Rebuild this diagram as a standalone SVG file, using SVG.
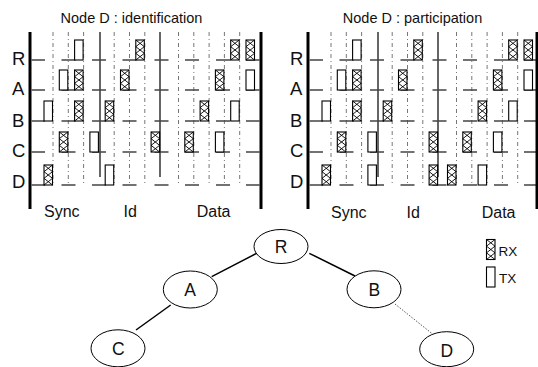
<svg xmlns="http://www.w3.org/2000/svg" width="538" height="367" viewBox="0 0 538 367">
<style>
text{font-family:"Liberation Sans",Arial,sans-serif;fill:#111}
.title{font-size:14.5px;text-anchor:middle}
.row{font-size:18.5px}
.sec{font-size:16px}
.leg{font-size:13.5px}
.node text{font-size:17.5px;text-anchor:middle}
.bar{stroke:#000;stroke-width:3}
.sep{stroke:#000;stroke-width:1.2}
.grid{stroke:#777;stroke-width:1;stroke-dasharray:4 3 1 3;fill:none}
.tl{stroke:#444;stroke-width:1.3;fill:none}
.box{fill:#fff;stroke:#000;stroke-width:1.1}
.hatch{fill:none;stroke:#000;stroke-width:0.9}
.node ellipse{fill:#fff;stroke:#000;stroke-width:1}
.edge{stroke:#000;stroke-width:1.5}
.weak{stroke:#555;stroke-width:1;stroke-dasharray:1.5 1.5}
</style>
<defs>
  <!-- slot markers: TX = empty box, RX = cross-hatched box -->
  <g id="tx"><rect class="box" width="8.5" height="20"/></g>
  <g id="rx"><rect class="box" width="8.5" height="20"/><path class="hatch" d="M0 0L8.5 6.67L0 13.33L8.5 20M8.5 0L0 6.67L8.5 13.33L0 20"/></g>
  <!-- idle timeline of one node row -->
  <path id="tline" class="tl" d="M31.5 0H45M61.5 0H75.5M92 0H106M122.5 0H136.5M154.5 0H168.5M185 0H199M216 0H230M246 0H259.5"/>
  <!-- chart frame: slot grid, section dividers, left axis, row timelines, row names -->
  <g id="frame">
    <path class="grid" d="M53 32V186M68.3 32V186M83.6 32V186M114.2 32V186M129.5 32V186M144.8 32V186M178.5 32V186M193.8 32V186M209.1 32V186M224.4 32V186M239.7 32V186"/>
    <path class="sep" d="M100 32V177M160 32V177"/>
    <path class="bar" d="M30 32V209"/>
    <use href="#tline" y="60"/>
    <use href="#tline" y="90"/>
    <use href="#tline" y="121"/>
    <use href="#tline" y="152"/>
    <use href="#tline" y="185"/>
    <text class="row" x="12" y="65">R</text>
    <text class="row" x="12" y="95">A</text>
    <text class="row" x="12" y="126.5">B</text>
    <text class="row" x="12" y="156.5">C</text>
    <text class="row" x="12" y="188">D</text>
  </g>
  <!-- slots of nodes R, A, B, C (same in both phases) -->
  <g id="slotsRABC">
    <use href="#tx" x="74.6" y="40"/>
    <use href="#rx" x="135.8" y="40"/>
    <use href="#rx" x="230.7" y="40"/>
    <use href="#rx" x="246" y="40"/>
    <use href="#tx" x="59.3" y="70"/>
    <use href="#rx" x="74.6" y="70"/>
    <use href="#rx" x="120.5" y="70"/>
    <use href="#rx" x="215.4" y="70"/>
    <use href="#tx" x="246" y="70"/>
    <use href="#tx" x="44" y="101"/>
    <use href="#rx" x="74.6" y="101"/>
    <use href="#rx" x="105.2" y="101"/>
    <use href="#rx" x="200.1" y="101"/>
    <use href="#tx" x="230.7" y="101"/>
    <use href="#rx" x="59.3" y="132"/>
    <use href="#tx" x="89.9" y="132"/>
    <use href="#rx" x="151.1" y="132"/>
    <use href="#rx" x="184.8" y="132"/>
    <use href="#tx" x="215.4" y="132"/>
  </g>
</defs>

<!-- left chart: identification phase -->
<g id="chart-identification">
  <text class="title" x="131.5" y="23">Node D : identification</text>
  <use href="#frame"/>
  <path class="bar" d="M261 32V209"/>
  <use href="#slotsRABC"/>
  <use href="#rx" x="44" y="165"/>
  <use href="#tx" x="105.2" y="165"/>
  <text class="sec" x="44" y="216.5">Sync</text>
  <text class="sec" x="123.5" y="216.5">Id</text>
  <text class="sec" x="196.7" y="216.5">Data</text>
</g>

<!-- right chart: participation phase -->
<g id="chart-participation">
  <text class="title" x="412.5" y="23">Node D : participation</text>
  <use href="#frame" x="278"/>
  <path class="bar" d="M537 32V209"/>
  <use href="#slotsRABC" x="278"/>
  <use href="#rx" x="322" y="165"/>
  <use href="#tx" x="367.9" y="165"/>
  <use href="#rx" x="429.1" y="165"/>
  <use href="#rx" x="447.5" y="165"/>
  <use href="#tx" x="478.1" y="165"/>
  <text class="sec" x="331" y="218">Sync</text>
  <text class="sec" x="406.5" y="218">Id</text>
  <text class="sec" x="481.7" y="218">Data</text>
</g>

<!-- legend -->
<g id="legend">
  <use href="#rx" x="486.5" y="239.5"/>
  <text class="leg" x="498.5" y="256">RX</text>
  <use href="#tx" x="486.5" y="267"/>
  <text class="leg" x="499" y="283">TX</text>
</g>

<!-- tree links -->
<g id="connectors">
  <line class="edge" x1="256.7" y1="253.3" x2="211.7" y2="276.7"/>
  <line class="edge" x1="309.3" y1="253.3" x2="355" y2="276"/>
  <line class="edge" x1="170.7" y1="305" x2="136" y2="330"/>
  <line class="weak" x1="395" y1="304" x2="431.7" y2="333.3"/>
</g>

<!-- tree nodes -->
<g id="node-R" class="node"><ellipse cx="281" cy="246.5" rx="27" ry="17"/><text x="281" y="252.5">R</text></g>
<g id="node-A" class="node"><ellipse cx="190.3" cy="289.5" rx="27" ry="18.5"/><text x="190" y="296">A</text></g>
<g id="node-B" class="node"><ellipse cx="374" cy="289.3" rx="27" ry="18.5"/><text x="374.3" y="296">B</text></g>
<g id="node-C" class="node"><ellipse cx="118" cy="348.3" rx="27" ry="18.5"/><text x="118.3" y="355">C</text></g>
<g id="node-D" class="node"><ellipse cx="446.7" cy="349.2" rx="27" ry="17.5"/><text x="446.7" y="356.5">D</text></g>
</svg>
